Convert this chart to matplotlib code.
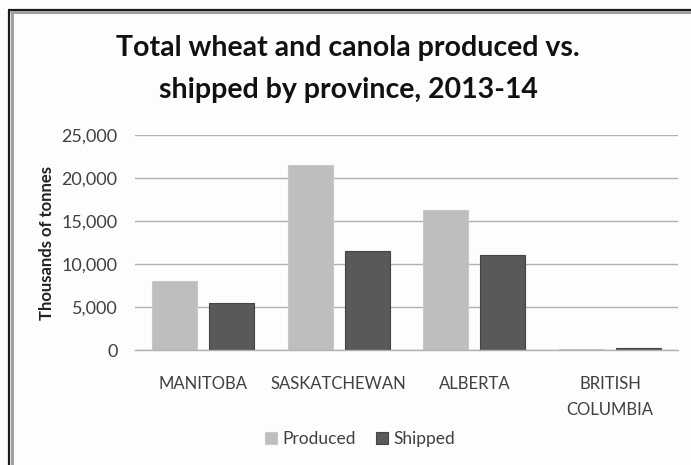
import matplotlib
matplotlib.use("Agg")
import matplotlib.pyplot as plt
import numpy as np
from matplotlib.lines import Line2D

# Data (thousands of tonnes)
provinces = ["MANITOBA", "SASKATCHEWAN", "ALBERTA", "BRITISH\nCOLUMBIA"]
produced = [8000, 21500, 16300, 150]
shipped = [5500, 11500, 11000, 280]
series_names = ["Produced", "Shipped"]
yticks = [0, 5000, 10000, 15000, 20000, 25000]

plt.rcParams["font.family"] = ["Lato", "DejaVu Sans"]

W, H = 691, 465
fig = plt.figure(figsize=(W / 100, H / 100), dpi=100, facecolor="#fdfdfd")

# Axes placement in pixels: x 135..678, y 135..350
ax = fig.add_axes([135 / W, 1 - 350 / H, (678 - 135) / W, (350 - 135) / H])
ax.set_facecolor("#fdfdfd")

x = np.arange(len(provinces))
bw = 0.33
ax.bar(x - 0.21, produced, bw, color="#bebebe", edgecolor="#c8c8c8", linewidth=0.8,
       label=series_names[0], zorder=3)
ax.bar(x + 0.21, shipped, bw, color="#595959", edgecolor="#444444", linewidth=0.8,
       label=series_names[1], zorder=3)

ax.set_xlim(-0.5, len(provinces) - 0.5)
ax.set_ylim(0, 25000)
ax.set_yticks(yticks)
ax.set_yticklabels([f"{v:,}" for v in yticks])
ax.set_xticks(x)
ax.set_xticklabels(provinces, linespacing=1.75)
ax.tick_params(axis="y", length=0, pad=12.5, labelsize=13, labelcolor="#404040")
ax.tick_params(axis="x", length=0, pad=19, labelsize=12, labelcolor="#404040")

for s in ["top", "right", "left"]:
    ax.spines[s].set_visible(False)
ax.spines["bottom"].set_color("#b0b0b0")
ax.spines["bottom"].set_linewidth(1.0)
ax.spines["bottom"].set_zorder(4)
ax.grid(axis="y", color="#b0b0b0", linewidth=1.0, zorder=0)
ax.set_axisbelow(True)

# y label
fig.text(47 / W, 1 - 243 / H, "Thousands of tonnes", rotation=90, ha="center", va="center",
         fontsize=12, fontweight="bold", color="#222222")

# title
fig.text(348 / W, 1 - 48 / H, "Total wheat and canola produced vs.", ha="center", va="center",
         fontsize=20.5, fontweight="bold", color="#111111")
fig.text(348 / W, 1 - 90 / H, "shipped by province, 2013-14", ha="center", va="center",
         fontsize=20.5, fontweight="bold", color="#111111")

# legend
fig.legend(loc="center", bbox_to_anchor=(360 / W, 1 - 439 / H), ncol=2, frameon=False,
           fontsize=12.5, handlelength=0.7, handleheight=0.7, handletextpad=0.3,
           columnspacing=1.2, labelcolor="#404040")

# outer frame: dark line with gray shadow inside
def px_line(x0, y0, x1, y1, color, lw):
    fig.add_artist(Line2D([x0 / W, x1 / W], [1 - y0 / H, 1 - y1 / H],
                          transform=fig.transFigure, color=color, linewidth=lw,
                          solid_capstyle="butt"))

px_line(9, 10, 9, H, "#1a1a1a", 1.6)
px_line(8, 10, W, 10, "#1a1a1a", 1.6)
px_line(11.8, 12.5, 11.8, H, "#a0a0a0", 2.2)
px_line(10, 12.5, W, 12.5, "#a0a0a0", 2.2)

fig.savefig("out.png", dpi=100, facecolor=fig.get_facecolor())
